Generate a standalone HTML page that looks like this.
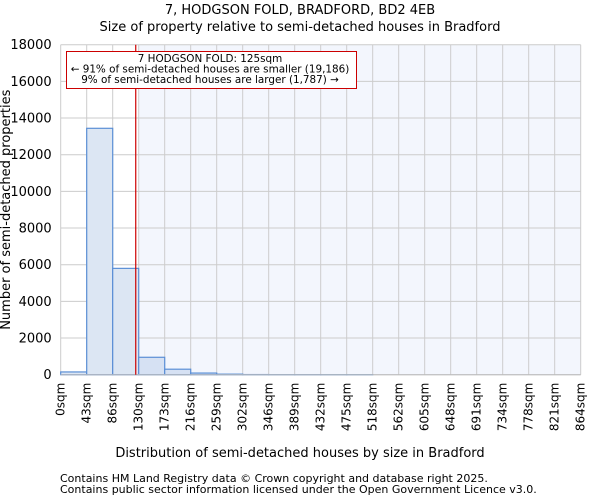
<!DOCTYPE html>
<html><head><meta charset="utf-8"><style>
body{margin:0;background:#fff;font-family:"DejaVu Sans","Liberation Sans",sans-serif}
svg text{font-family:"DejaVu Sans","Liberation Sans",sans-serif;fill:#000}
</style></head><body>
<svg id="c" width="600" height="500"></svg>
<script>
const categories=["0sqm","43sqm","86sqm","130sqm","173sqm","216sqm","259sqm","302sqm","346sqm","389sqm","432sqm","475sqm","518sqm","562sqm","605sqm","648sqm","691sqm","734sqm","778sqm","821sqm","864sqm"];
const counts=[150,13440,5800,950,300,90,30,8,3,2,1,1,0,0,0,0,0,0,0,0];
const yTicks=[0,2000,4000,6000,8000,10000,12000,14000,16000,18000];
const markerSqm=125;
const markerBin=3;
const binEdges=[0,43,86,130,173,216,259,302,346,389,432,475,518,562,605,648,691,734,778,821,864];
const NS="http://www.w3.org/2000/svg";
const svg=document.getElementById('c');
const L=60.7,R=580.7,T=44.7,B=374.7,yMax=18000;
const x=i=>L+(R-L)*i/(categories.length-1);
const y=v=>B-(B-T)*v/yMax;
const xv=v=>{for(let i=0;i<binEdges.length-1;i++){if(v<=binEdges[i+1])return x(i)+(x(i+1)-x(i))*(v-binEdges[i])/(binEdges[i+1]-binEdges[i]);}return R;};
function mk(t,a,txt){const e=document.createElementNS(NS,t);for(const k in a)e.setAttribute(k,a[k]);if(txt!=null)e.textContent=txt;svg.appendChild(e);return e;}
let e=mk('rect',{x:L,y:T,width:R-L,height:B-T,fill:'#fff'});


e=mk('rect',{x:x(markerBin),y:T,width:R-x(markerBin),height:B-T,fill:'#f3f6fd'});


categories.forEach((c,i)=>{
 e=mk('line',{x1:x(i),x2:x(i),y1:T,y2:B,stroke:'#cccccc','stroke-width':1});
 
 
 e=mk('text',{x:0,y:0,'font-size':12,'text-anchor':'end',transform:`translate(${x(i)+4},${B+8}) rotate(-90)`},c);
 
 
});
yTicks.forEach(v=>{
 e=mk('line',{x1:L,x2:R,y1:y(v),y2:y(v),stroke:'#cccccc','stroke-width':1});
 
 
 e=mk('text',{x:L-9,y:y(v)+4.5,'font-size':13,'text-anchor':'end'},String(v));
 
 
});
counts.forEach((v,i)=>{
 if(v<=0)return;
 e=mk('rect',{x:x(i),y:y(v),width:x(i+1)-x(i),height:B-y(v),fill:i>=markerBin?'#d6e1f3':'#dce6f3',stroke:'#5b8fd6','stroke-width':1.2});
 
 
});
e=mk('line',{x1:L,x2:R,y1:B,y2:B,stroke:'#bbbbbb'});


e=mk('line',{x1:xv(markerSqm),x2:xv(markerSqm),y1:T,y2:B,stroke:'#cc0000','stroke-width':1.2});


e=mk('rect',{x:66.5,y:51.5,width:290,height:37,fill:'#fff',stroke:'#cc0000','stroke-width':1});


[["7 HODGSON FOLD: 125sqm",62],["← 91% of semi-detached houses are smaller (19,186)",72.5],["9% of semi-detached houses are larger (1,787) →",83]].forEach(t=>{
 e=mk('text',{x:210,y:t[1],'font-size':10.4,'text-anchor':'middle'},t[0]);
 
 
});
e=mk('text',{x:300,y:14,'font-size':13,'text-anchor':'middle'},"7, HODGSON FOLD, BRADFORD, BD2 4EB");


e=mk('text',{x:300,y:31,'font-size':13,'text-anchor':'middle'},"Size of property relative to semi-detached houses in Bradford");


e=mk('text',{x:300,y:457,'font-size':13,'text-anchor':'middle'},"Distribution of semi-detached houses by size in Bradford");


e=mk('text',{x:0,y:0,'font-size':13,'text-anchor':'middle',transform:`translate(10,${(T+B)/2}) rotate(-90)`},"Number of semi-detached properties");


e=mk('text',{x:60,y:482,'font-size':11,fill:'#444'},"Contains HM Land Registry data © Crown copyright and database right 2025.");


e=mk('text',{x:60,y:493,'font-size':11,fill:'#444'},"Contains public sector information licensed under the Open Government Licence v3.0.");


</script>
</body></html>
